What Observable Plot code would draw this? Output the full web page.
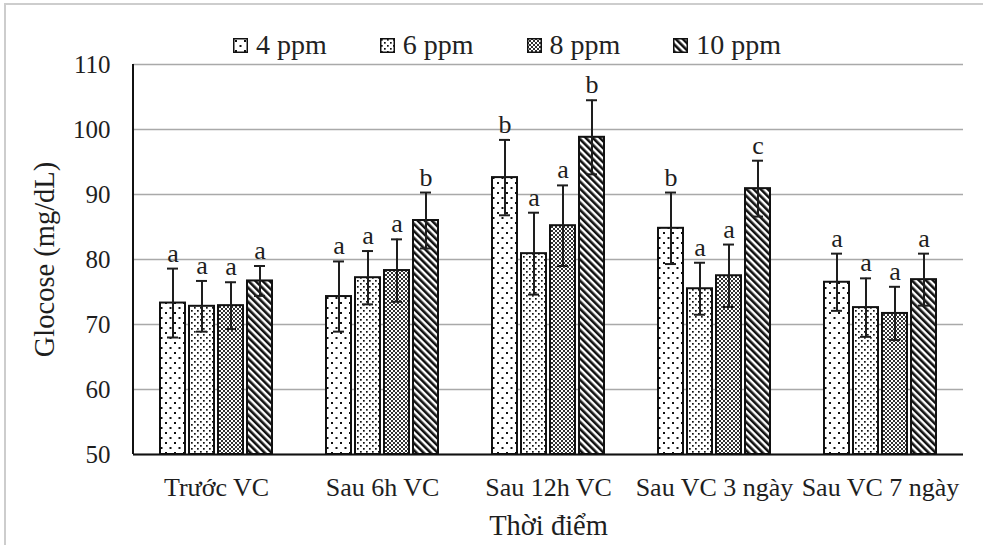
<!DOCTYPE html>
<html><head><meta charset="utf-8">
<script src="https://cdn.jsdelivr.net/npm/d3@7"></script>
<script src="https://cdn.jsdelivr.net/npm/@observablehq/plot@0.6"></script>
<style>
html,body{margin:0;padding:0;background:#fff;}
#wrap{position:relative;width:983px;height:545px;overflow:hidden;font-family:"Liberation Serif","Times New Roman",serif;color:#222;}
#border{position:absolute;left:4px;top:3px;width:1000px;height:560px;border:2px solid #cdcdcd;pointer-events:none;}
#legend{position:absolute;left:233px;top:29px;height:32px;display:flex;align-items:center;gap:53px;font-family:"Liberation Serif",serif;font-size:28px;line-height:32px;}
.item{display:flex;align-items:center;gap:8px;}
.item svg{display:block;}
</style></head><body>
<svg width="0" height="0" style="position:absolute">
  <defs>
    <pattern id="pat4" patternUnits="userSpaceOnUse" width="9" height="10">
      <rect width="9" height="10" fill="#fff"/>
      <rect x="2" y="2" width="2" height="2" fill="#111"/>
      <rect x="6.5" y="7" width="2" height="2" fill="#111"/>
    </pattern>
    <pattern id="pat6" patternUnits="userSpaceOnUse" width="6" height="6">
      <rect width="6" height="6" fill="#fff"/>
      <rect x="1" y="1" width="1.7" height="1.7" fill="#111"/>
      <rect x="4" y="4" width="1.7" height="1.7" fill="#111"/>
    </pattern>
    <pattern id="pat8" patternUnits="userSpaceOnUse" width="4" height="4">
      <rect width="4" height="4" fill="#fff"/>
      <rect x="0" y="0" width="2" height="2" fill="#333"/>
      <rect x="2" y="2" width="2" height="2" fill="#333"/>
    </pattern>
    <pattern id="pat10" patternUnits="userSpaceOnUse" width="5" height="5" patternTransform="rotate(-45)">
      <rect width="5" height="5" fill="#fff"/>
      <rect x="0" y="0" width="2.6" height="5" fill="#111"/>
    </pattern>
  </defs>
</svg>
<div id="wrap"><div id="legend"></div><div id="border"></div></div>
<script>
const categories = ["Trước VC", "Sau 6h VC", "Sau 12h VC", "Sau VC 3 ngày", "Sau VC 7 ngày"];
const series = ["4 ppm", "6 ppm", "8 ppm", "10 ppm"];

const mean4  = [73.3, 74.3, 92.6, 84.8, 76.5];
const sd4    = [5.3, 5.4, 5.8, 5.5, 4.4];
const let4   = ["a", "a", "b", "b", "a"];

const mean6  = [72.8, 77.2, 80.9, 75.5, 72.6];
const sd6    = [3.9, 4.1, 6.3, 4.0, 4.5];
const let6   = ["a", "a", "a", "a", "a"];

const mean8  = [72.9, 78.3, 85.2, 77.5, 71.7];
const sd8    = [3.6, 4.8, 6.2, 4.8, 4.1];
const let8   = ["a", "a", "a", "a", "a"];

const mean10 = [76.7, 86.0, 98.8, 90.9, 76.9];
const sd10   = [2.3, 4.3, 5.7, 4.3, 4.0];
const let10  = ["a", "b", "b", "c", "a"];

const yDomain = [50, 110];
const yTicks = [50, 60, 70, 80, 90, 100, 110];
const patterns = ["url(#pat4)", "url(#pat6)", "url(#pat8)", "url(#pat10)"];

const means = [mean4, mean6, mean8, mean10];
const sds = [sd4, sd6, sd8, sd10];
const lets = [let4, let6, let8, let10];

const rows = [];
series.forEach((s, i) => categories.forEach((c, j) => {
  rows.push({cat: c, series: s, mean: means[i][j], sd: sds[i][j], letter: lets[i][j]});
}));

// legend
const legend = document.getElementById("legend");
series.forEach((s, i) => {
  const item = document.createElement("div");
  item.className = "item";
  item.innerHTML = `<svg width="15" height="15"><rect x="0.75" y="0.75" width="13.5" height="13.5" fill="${patterns[i]}" stroke="#111" stroke-width="1.5"/></svg><span>${s}</span>`;
  legend.appendChild(item);
});

const ink = "#1e1e1e";
const serif = "'Liberation Serif', 'Times New Roman', serif";
const chart = Plot.plot({
  width: 983,
  height: 545,
  marginLeft: 132,
  marginRight: 19,
  marginTop: 64,
  marginBottom: 91,
  style: {fontFamily: serif, fontSize: "26px", background: "transparent", color: ink},
  fx: {domain: categories, padding: 0},
  x: {domain: series, paddingInner: 0.15, paddingOuter: 0.85, axis: null},
  y: {domain: yDomain},
  color: {type: "ordinal", domain: series, range: patterns},
  marks: [
    Plot.gridY({ticks: yTicks, stroke: "#a9a9a9", strokeOpacity: 1, strokeWidth: 1.5}),
    Plot.axisY({ticks: yTicks, anchor: "left", tickSize: 0, tickPadding: 23, fontSize: 25, fontFamily: serif, fill: ink, label: null}),
    Plot.axisY({ticks: [], anchor: "left", tickSize: 0, fontSize: 28.5, fontFamily: serif, fill: ink,
      label: "Glocose (mg/dL)", labelAnchor: "center", labelOffset: 100, labelArrow: "none"}),
    Plot.axisFx({anchor: "bottom", tickSize: 0, tickPadding: 23, fontSize: 26, fontFamily: serif, fill: ink, label: null}),
    Plot.axisFx({ticks: [], anchor: "bottom", tickSize: 0, fontSize: 28.5, fontFamily: serif, fill: ink,
      label: "Thời điểm", labelAnchor: "center", labelOffset: 80, labelArrow: "none"}),
    Plot.barY(rows, {fx: "cat", x: "series", y1: yDomain[0], y2: "mean", fill: "series", stroke: "#111", strokeWidth: 2}),
    Plot.ruleY([yDomain[0]], {stroke: "#111", strokeWidth: 2}),
    Plot.ruleX(rows, {fx: "cat", x: "series", y1: d => d.mean - d.sd, y2: d => d.mean + d.sd, stroke: ink, strokeWidth: 2}),
    Plot.tickY(rows, {fx: "cat", x: "series", y: d => d.mean + d.sd, stroke: ink, strokeWidth: 2, insetLeft: 7, insetRight: 7}),
    Plot.tickY(rows, {fx: "cat", x: "series", y: d => d.mean - d.sd, stroke: ink, strokeWidth: 2, insetLeft: 7, insetRight: 7}),
    Plot.text(rows, {fx: "cat", x: "series", y: d => d.mean + d.sd, text: "letter", lineAnchor: "bottom", dy: -7, fontSize: 26, fontFamily: serif, fill: ink})
  ]
});

// y-axis line, placed with the chart's own scales
const fxs = chart.scale("fx"), ys = chart.scale("y");
const x0 = fxs.apply(categories[0]);
d3.select(chart).append("line")
  .attr("x1", x0).attr("x2", x0)
  .attr("y1", ys.apply(yDomain[0])).attr("y2", ys.apply(yDomain[1]))
  .attr("stroke", "#111").attr("stroke-width", 2);

const wrap = document.getElementById("wrap");
wrap.insertBefore(chart, wrap.firstChild);
chart.style.position = "absolute";
chart.style.left = "0px";
chart.style.top = "0px";
</script>
</body></html>
